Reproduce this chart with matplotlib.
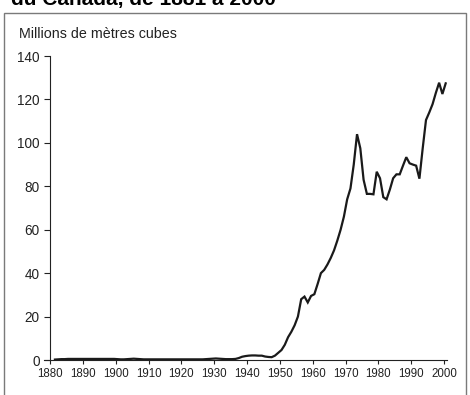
import numpy as np
import matplotlib
matplotlib.use('Agg')
import matplotlib.pyplot as plt
from matplotlib.patches import Rectangle

plt.rcParams['font.family'] = ['Liberation Sans', 'DejaVu Sans']

# annual values, millions of cubic metres
years = np.arange(1881, 2001)
early = [0.2, 0.3, 0.4, 0.4, 0.5, 0.5, 0.5, 0.5, 0.5, 0.5,   # 1881-1890
         0.5, 0.5, 0.5, 0.5, 0.5, 0.5, 0.5, 0.5, 0.5, 0.4,   # 1891-1900
         0.3, 0.3, 0.4, 0.5, 0.6, 0.5, 0.4, 0.3, 0.3, 0.3,   # 1901-1910
         0.3, 0.3, 0.3, 0.3, 0.3, 0.3, 0.3, 0.3, 0.3, 0.3,   # 1911-1920
         0.3, 0.3, 0.3, 0.3, 0.3, 0.3, 0.4, 0.5, 0.6, 0.7,   # 1921-1930
         0.6, 0.5, 0.4, 0.4, 0.4, 0.5]                        # 1931-1936
late = [0.9, 1.5, 1.8, 2.0, 2.1, 2.1, 2.0, 2.0, 1.6, 1.4,     # 1937-1946
        1.3, 2.0, 3.3, 4.6, 7.0, 10.5, 13.0, 16.0, 20.0, 28.0,  # 1947-1956
        29.2, 26.5, 29.5, 30.3, 35.0, 40.0, 41.5, 44.0, 47.0, 50.5,  # 1957-1966
        55.0, 60.0, 66.0, 74.0, 79.0, 90.0, 104.0, 97.5, 83.0, 76.5,  # 1967-1976
        76.5, 76.3, 86.7, 83.7, 75.0, 74.0, 78.5, 83.7, 85.5, 85.5,  # 1977-1986
        89.5, 93.4, 90.6, 90.0, 89.5, 83.5, 97.5, 110.5, 114.0, 117.8,  # 1987-1996
        123.0, 127.7, 122.5, 127.4]                                # 1997-2000
volume = np.array(early + late)

xticks = np.arange(1880, 2001, 10)
yticks = np.arange(0, 141, 20)

fig = plt.figure(figsize=(4.7, 3.95), dpi=100)
W, H = 470, 395

# outer frame of the figure box (bottom runs off the image)
fig.patches.append(Rectangle((4 / W, -0.05), 462 / W, 1.05 - 13 / H,
                             transform=fig.transFigure, fill=False,
                             edgecolor='#7a7a7a', linewidth=1.0))

# title, cut off at the top of the picture
fig.text(11 / W, 1 - 4.5 / H, 'du Canada, de 1881 à 2000', fontsize=15,
         fontweight='bold', ha='left', va='baseline')

ax = fig.add_axes([50 / W, 35 / H, 397 / W, 304 / H])
# values plotted at mid-year
ax.plot(years + 0.5, volume, c='#1a1a1a', lw=1.6, solid_joinstyle='miter')

ax.set_xlim(1880, 2000.9)
ax.set_ylim(0, 140)
ax.set_xticks(xticks)
ax.set_yticks(yticks)
ax.tick_params(axis='both', direction='out', width=0.8, colors='#222222')
ax.tick_params(axis='y', length=4.5, pad=3, labelsize=9.8)
ax.tick_params(axis='x', length=3.2, pad=2.5, labelsize=8.3)
for s in ['top', 'right']:
    ax.spines[s].set_visible(False)
for s in ['left', 'bottom']:
    ax.spines[s].set_linewidth(0.8)
    ax.spines[s].set_color('#222222')
ax.spines['bottom'].set_bounds(1878.2, 2000.9)

fig.text(19 / W, 1 - 34 / H, 'Millions de mètres cubes', fontsize=10.3,
         ha='left', va='center', color='#222222')

fig.savefig('out.png', dpi=100)
